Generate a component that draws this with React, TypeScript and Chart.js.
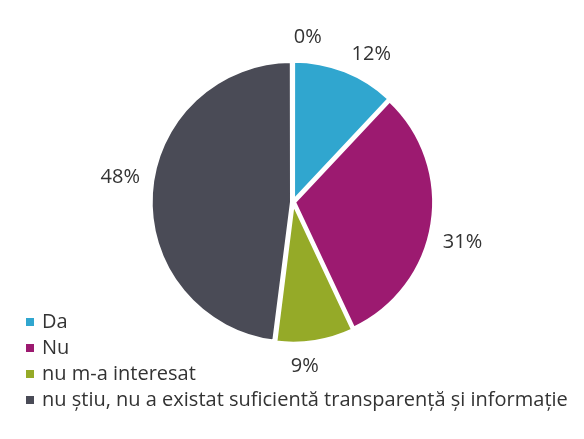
import React, { useEffect, useRef } from "react";
import { Chart, registerables } from "chart.js";

Chart.register(...registerables);

const categories = [
  "Da",
  "Nu",
  "nu m-a interesat",
  "nu știu, nu a existat suficientă transparență și informație",
  "",
];
const values = [12, 31, 9, 48, 0];
const percentLabels = ["12%", "31%", "9%", "48%", "0%"];
const colors = ["#30a6cf", "#9c1a70", "#95aa28", "#4a4b56", "#888888"];

const FONT_FAMILY = "'Open Sans', sans-serif";
const FONT_SIZE = 20;
const TEXT_COLOR = "#333333";
const LABEL_ANGLE_SHIFT = (5 * Math.PI) / 180;

const labelsPlugin = {
  id: "pctLabels",
  afterDatasetsDraw(chart: any) {
    const ctx = chart.ctx;
    const meta = chart.getDatasetMeta(0);
    ctx.save();
    ctx.font = `${FONT_SIZE}px ${FONT_FAMILY}`;
    ctx.fillStyle = TEXT_COLOR;
    ctx.textAlign = "center";
    ctx.textBaseline = "middle";
    meta.data.forEach((arc: any, i: number) => {
      const p = arc.getProps(["x", "y", "startAngle", "endAngle", "outerRadius"], true);
      const mid = (p.startAngle + p.endAngle) / 2 + LABEL_ANGLE_SHIFT;
      const dx = Math.cos(mid);
      const dy = Math.sin(mid);
      const text = percentLabels[i];
      const w = ctx.measureText(text).width;
      const h = FONT_SIZE;
      const r = p.outerRadius + 16;
      const cx = p.x + dx * r + dx * (w / 2);
      const cy = p.y + dy * r + dy * (h / 2);
      ctx.fillText(text, cx, cy);
    });
    ctx.restore();
  },
};

const legendPlugin = {
  id: "sideLegend",
  afterDraw(chart: any) {
    const ctx = chart.ctx;
    const ds = chart.data.datasets[0];
    const labels: string[] = chart.data.labels;
    const items = labels
      .map((t, i) => ({ t, c: ds.backgroundColor[i] }))
      .filter((it) => it.t !== "");
    ctx.save();
    ctx.font = `${FONT_SIZE}px ${FONT_FAMILY}`;
    ctx.textBaseline = "middle";
    ctx.textAlign = "left";
    const x0 = 26;
    const y0 = 322;
    const step = 26;
    items.forEach((it, i) => {
      const y = y0 + i * step;
      ctx.fillStyle = it.c;
      ctx.fillRect(x0, y - 4, 8, 8);
      ctx.fillStyle = TEXT_COLOR;
      ctx.fillText(it.t, x0 + 16, y);
    });
    ctx.restore();
  },
};

export default function App() {
  const ref = useRef<HTMLCanvasElement | null>(null);
  useEffect(() => {
    document.body.style.margin = "0";
    const canvas = ref.current!;
    const chart = new Chart(canvas, {
      type: "pie",
      data: {
        labels: categories,
        datasets: [
          {
            data: values,
            backgroundColor: colors,
            borderColor: "#ffffff",
            borderWidth: 3,
            offset: 6,
            radius: 139,
          } as any,
        ],
      },
      options: {
        animation: false,
        responsive: false,
        maintainAspectRatio: false,
        layout: { padding: { top: 0, bottom: 35, left: 2, right: 0 } },
        plugins: {
          legend: { display: false },
          tooltip: { enabled: false },
        },
      },
      plugins: [labelsPlugin, legendPlugin],
    });
    return () => chart.destroy();
  }, []);
  return (
    <div style={{ width: 584, height: 439, background: "#fff" }}>
      <canvas ref={ref} width={584} height={439} style={{ display: "block" }} />
    </div>
  );
}
